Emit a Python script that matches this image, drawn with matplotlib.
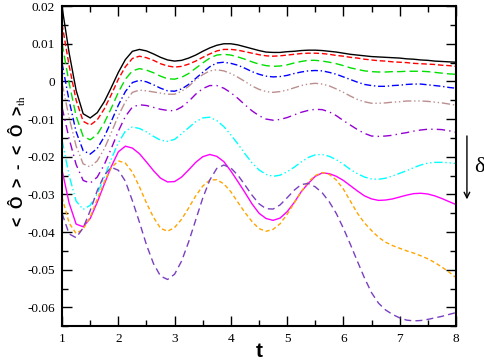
import matplotlib
matplotlib.use("Agg")
import matplotlib.pyplot as plt
import numpy as np
from matplotlib.ticker import MultipleLocator

plt.rcParams['axes.unicode_minus'] = False
plt.rcParams['font.family'] = 'Liberation Serif'
plt.rcParams['mathtext.fontset'] = 'stix'

# time grid, step 1/8
t = np.arange(1.0, 8.001, 0.125)

# curves, values (one row = one unit of t)
black = [0.0197, 0.0076, -0.0024, -0.0086, -0.0097, -0.0083, -0.0054, -0.0016,
         0.0024, 0.0058, 0.0080, 0.0085, 0.0081, 0.0073, 0.0064, 0.0057,
         0.0054, 0.0056, 0.0062, 0.0070, 0.0080, 0.0089, 0.0096, 0.0100,
         0.0100, 0.0097, 0.0092, 0.0087, 0.0082, 0.0078, 0.0077, 0.0077,
         0.0079, 0.0080, 0.0082, 0.0083, 0.0083, 0.0082, 0.0080, 0.0078,
         0.0075, 0.0072, 0.0070, 0.0068, 0.0066, 0.0065, 0.0064, 0.0063,
         0.0062, 0.0060, 0.0059, 0.0057, 0.0056, 0.0054, 0.0053, 0.0052,
         0.0051]
red = [0.0152, 0.0042, -0.0050, -0.0106, -0.0116, -0.0102, -0.0073, -0.0035,
       0.0006, 0.0039, 0.0061, 0.0067, 0.0063, 0.0056, 0.0047, 0.0041,
       0.0038, 0.0040, 0.0046, 0.0054, 0.0064, 0.0073, 0.0081, 0.0085,
       0.0085, 0.0083, 0.0079, 0.0075, 0.0071, 0.0068, 0.0067, 0.0068,
       0.0070, 0.0072, 0.0074, 0.0075, 0.0075, 0.0074, 0.0072, 0.0069,
       0.0067, 0.0064, 0.0062, 0.0059, 0.0057, 0.0055, 0.0054, 0.0052,
       0.0051, 0.0050, 0.0048, 0.0047, 0.0046, 0.0045, 0.0043, 0.0042,
       0.0040]
green = [0.0101, -0.0004, -0.0092, -0.0146, -0.0155, -0.0141, -0.0110, -0.0071,
         -0.0029, 0.0006, 0.0028, 0.0034, 0.0030, 0.0023, 0.0014, 0.0007,
         0.0006, 0.0011, 0.0021, 0.0035, 0.0049, 0.0062, 0.0070, 0.0072,
         0.0070, 0.0065, 0.0059, 0.0052, 0.0046, 0.0042, 0.0040, 0.0041,
         0.0044, 0.0049, 0.0053, 0.0056, 0.0056, 0.0054, 0.0051, 0.0047,
         0.0042, 0.0036, 0.0032, 0.0028, 0.0026, 0.0025, 0.0025, 0.0026,
         0.0026, 0.0027, 0.0027, 0.0027, 0.0026, 0.0024, 0.0022, 0.0020,
         0.0019]
blue = [0.0048, -0.0051, -0.0134, -0.0184, -0.0193, -0.0178, -0.0147, -0.0106,
        -0.0063, -0.0027, -0.0003, 0.0003, -0.0001, -0.0009, -0.0018, -0.0025,
        -0.0026, -0.0020, -0.0008, 0.0008, 0.0024, 0.0039, 0.0049, 0.0051,
        0.0048, 0.0043, 0.0035, 0.0026, 0.0019, 0.0014, 0.0012, 0.0013,
        0.0016, 0.0021, 0.0025, 0.0028, 0.0029, 0.0028, 0.0024, 0.0019,
        0.0012, 0.0005, -0.0002, -0.0008, -0.0011, -0.0013, -0.0013, -0.0011,
        -0.0010, -0.0008, -0.0007, -0.0007, -0.0009, -0.0011, -0.0013, -0.0016,
        -0.0018]
tan = [-0.0005, -0.0096, -0.0172, -0.0219, -0.0227, -0.0211, -0.0179, -0.0136,
       -0.0091, -0.0054, -0.0029, -0.0023, -0.0025, -0.0028, -0.0031, -0.0034,
       -0.0034, -0.0026, -0.0013, 0.0004, 0.0018, 0.0028, 0.0031, 0.0028,
       0.0021, 0.0011, -0.0000, -0.0012, -0.0021, -0.0027, -0.0029, -0.0027,
       -0.0023, -0.0017, -0.0011, -0.0007, -0.0005, -0.0007, -0.0012, -0.0020,
       -0.0029, -0.0039, -0.0048, -0.0054, -0.0058, -0.0058, -0.0057, -0.0055,
       -0.0054, -0.0052, -0.0052, -0.0052, -0.0053, -0.0055, -0.0057, -0.0060,
       -0.0063]
violet = [-0.0069, -0.0152, -0.0221, -0.0263, -0.0270, -0.0254, -0.0221, -0.0178,
          -0.0132, -0.0093, -0.0068, -0.0062, -0.0064, -0.0069, -0.0074, -0.0077,
          -0.0078, -0.0068, -0.0053, -0.0034, -0.0019, -0.0011, -0.0011, -0.0018,
          -0.0030, -0.0045, -0.0062, -0.0078, -0.0091, -0.0100, -0.0103, -0.0101,
          -0.0096, -0.0089, -0.0082, -0.0077, -0.0074, -0.0075, -0.0081, -0.0091,
          -0.0104, -0.0116, -0.0128, -0.0138, -0.0145, -0.0146, -0.0145, -0.0143,
          -0.0139, -0.0136, -0.0132, -0.0129, -0.0127, -0.0127, -0.0128, -0.0131,
          -0.0135]
cyan = [-0.0156, -0.0250, -0.0318, -0.0340, -0.0329, -0.0298, -0.0255, -0.0206,
        -0.0163, -0.0132, -0.0121, -0.0125, -0.0134, -0.0146, -0.0156, -0.0159,
        -0.0154, -0.0139, -0.0123, -0.0107, -0.0097, -0.0095, -0.0104, -0.0120,
        -0.0142, -0.0166, -0.0192, -0.0216, -0.0235, -0.0247, -0.0252, -0.0249,
        -0.0240, -0.0228, -0.0214, -0.0202, -0.0195, -0.0194, -0.0199, -0.0208,
        -0.0220, -0.0234, -0.0245, -0.0254, -0.0259, -0.0260, -0.0257, -0.0251,
        -0.0244, -0.0237, -0.0229, -0.0222, -0.0217, -0.0215, -0.0215, -0.0216,
        -0.0218]
magenta = [-0.0236, -0.0323, -0.0379, -0.0386, -0.0364, -0.0321, -0.0273, -0.0226,
           -0.0187, -0.0172, -0.0177, -0.0192, -0.0214, -0.0237, -0.0257, -0.0267,
           -0.0266, -0.0254, -0.0235, -0.0215, -0.0200, -0.0194, -0.0199, -0.0213,
           -0.0238, -0.0266, -0.0295, -0.0325, -0.0350, -0.0364, -0.0369, -0.0363,
           -0.0346, -0.0322, -0.0293, -0.0271, -0.0252, -0.0243, -0.0245, -0.0252,
           -0.0263, -0.0277, -0.0291, -0.0304, -0.0312, -0.0316, -0.0315, -0.0312,
           -0.0307, -0.0302, -0.0298, -0.0297, -0.0299, -0.0304, -0.0311, -0.0319,
           -0.0327]
orange = [-0.0308, -0.0376, -0.0404, -0.0392, -0.0360, -0.0313, -0.0267, -0.0229,
          -0.0211, -0.0217, -0.0241, -0.0280, -0.0323, -0.0361, -0.0390, -0.0398,
          -0.0388, -0.0366, -0.0336, -0.0304, -0.0278, -0.0262, -0.0261, -0.0272,
          -0.0293, -0.0321, -0.0348, -0.0372, -0.0391, -0.0398, -0.0393, -0.0378,
          -0.0353, -0.0323, -0.0293, -0.0267, -0.0250, -0.0242, -0.0247, -0.0262,
          -0.0286, -0.0318, -0.0350, -0.0376, -0.0396, -0.0414, -0.0427, -0.0436,
          -0.0443, -0.0450, -0.0456, -0.0463, -0.0471, -0.0481, -0.0493, -0.0506,
          -0.0521]
indigo = [-0.0351, -0.0405, -0.0415, -0.0389, -0.0343, -0.0290, -0.0249, -0.0228,
          -0.0236, -0.0265, -0.0317, -0.0374, -0.0434, -0.0484, -0.0517, -0.0526,
          -0.0512, -0.0477, -0.0426, -0.0368, -0.0310, -0.0262, -0.0231, -0.0222,
          -0.0230, -0.0249, -0.0275, -0.0302, -0.0325, -0.0338, -0.0339, -0.0328,
          -0.0309, -0.0289, -0.0274, -0.0271, -0.0280, -0.0296, -0.0320, -0.0351,
          -0.0390, -0.0433, -0.0478, -0.0522, -0.0561, -0.0589, -0.0607, -0.0619,
          -0.0628, -0.0634, -0.0636, -0.0635, -0.0632, -0.0628, -0.0624, -0.0619,
          -0.0614]

series = [black, red, green, blue, tan, violet, cyan, magenta, orange, indigo]
colors = ["black", "red", "#00e000", "blue", "#bc8f8f", "#9400d3", "cyan", "magenta", "orange", "#7a3fc0"]
styles = ["-", (0, (4, 2)), (0, (6, 3)), (0, (5, 2, 1, 2)), (0, (6, 2, 1, 2, 1, 2)),
          (0, (6, 3, 1, 3)), (0, (6, 2, 1, 2, 1, 2)), "-", (0, (3, 2)), (0, (5, 3))]

yticks = [0.02, 0.01, 0, -0.01, -0.02, -0.03, -0.04, -0.05, -0.06]
ytick_labels = ["0.02", "0.01", "0", "-0.01", "-0.02", "-0.03", "-0.04", "-0.05", "-0.06"]

fig = plt.figure(figsize=(4.85, 3.6), dpi=100)
ax = fig.add_axes([0.128, 0.094, 0.812, 0.889])

for y, c, ls in zip(series, colors, styles):
    ax.plot(t, y, color=c, linestyle=ls, linewidth=1.0)

ax.set_xlim(1, 8)
ax.set_ylim(-0.065, 0.02)
ax.xaxis.set_major_locator(MultipleLocator(1))
ax.xaxis.set_minor_locator(MultipleLocator(0.5))
ax.yaxis.set_minor_locator(MultipleLocator(0.005))
ax.set_yticks(yticks)
ax.set_yticklabels(ytick_labels)

ax.tick_params(which="both", direction="in", top=True, right=True,
               labelsize=9.5, pad=5)
ax.tick_params(which="major", length=7, width=1)
ax.tick_params(which="minor", length=4, width=1)
for s in ax.spines.values():
    s.set_linewidth(1.5)

ax.set_xlabel("t", fontsize=15, fontweight="bold", family="Liberation Sans")
ax.xaxis.set_label_coords(0.5, -0.05)

# y label placed by hand, like the reference (far left, wide spacing)
fig.text(17 / 485, 1 - 161 / 360, "<  Ô  >  -  <  Ô  >$_{\\rm th}$", rotation=90,
         fontsize=11.5, fontweight="bold", family="Liberation Sans",
         ha="center", va="center")

ax.annotate("", xy=(1.028, 0.3875), xytext=(1.028, 0.603), xycoords="axes fraction",
            arrowprops=dict(arrowstyle="->", color="black", lw=1))
fig.text(0.988, 0.535, "δ", fontsize=16, ha="center", va="center")

fig.savefig("out.png", dpi=100)
